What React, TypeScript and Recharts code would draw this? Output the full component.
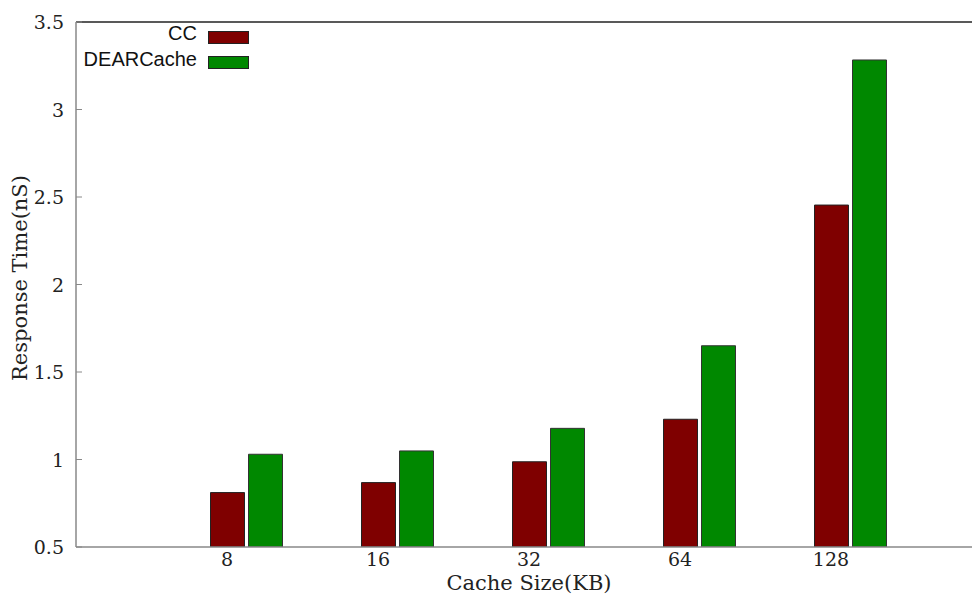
import { Bar, BarChart, Label, Legend, ReferenceLine, XAxis, YAxis } from "recharts";

const cacheSizes = ["8", "16", "32", "64", "128"];
const ccTimes = [0.811, 0.868, 0.987, 1.23, 2.454];
const dearCacheTimes = [1.03, 1.049, 1.178, 1.65, 3.283];
const yTicks = [0.5, 1, 1.5, 2, 2.5, 3, 3.5];
const xTicks = [1, 2, 3, 4, 5];

const data = cacheSizes.map((size, i) => ({
  pos: i + 1,
  size,
  cc: ccTimes[i],
  dearCache: dearCacheTimes[i],
}));

const PLOT_LEFT = 76;
const PLOT_TOP = 22;
const SERIF = '"DejaVu Serif", serif';
const SANS = '"Liberation Sans", Arial, sans-serif';
const AXIS_GRAY = "#888";

// gnuplot-style y ticks: mark drawn inward, label right-aligned to the left
function YTick(props: any) {
  const y = props.payload.coordinate;
  return (
    <g>
      <line x1={PLOT_LEFT} x2={PLOT_LEFT + 6} y1={y} y2={y} stroke={AXIS_GRAY} />
      <text x={64} y={y + 7} textAnchor="end" fontFamily={SERIF} fontSize={19} fill="#222">
        {props.payload.value}
      </text>
    </g>
  );
}

// mirrored ticks hanging from the top border
function TopTick(props: any) {
  const x = props.payload.coordinate;
  return <line x1={x} x2={x} y1={PLOT_TOP} y2={PLOT_TOP + 6} stroke="#555" />;
}

function renderLegend(props: any) {
  const items = (props.payload || []).filter((p: any) => p.type !== "none");
  return (
    <svg width={260} height={80}>
      {items.map((entry: any, i: number) => (
        <g key={entry.value}>
          <text
            x={197}
            y={40 + i * 25.5}
            textAnchor="end"
            fontFamily={SANS}
            fontSize={20}
            fill="#111"
          >
            {entry.value}
          </text>
          <rect
            x={208.5}
            y={31.5 + i * 25}
            width={40}
            height={12}
            fill={entry.color}
            stroke="#222"
          />
        </g>
      ))}
    </svg>
  );
}

export default function App() {
  return (
    <div
      style={{
        position: "absolute",
        left: 0,
        top: 0,
        width: 972,
        height: 602,
        overflow: "hidden",
        background: "#fff",
      }}
    >
      <BarChart
        width={1000}
        height={602}
        data={data}
        margin={{ top: PLOT_TOP, right: 18, left: 0, bottom: 0 }}
        barSize={34}
        barGap={4}
      >
        <XAxis
          dataKey="pos"
          type="number"
          domain={[0, 6]}
          ticks={xTicks}
          allowDataOverflow
          height={55}
          tickLine={false}
          tickSize={0}
          tickMargin={6}
          axisLine={{ stroke: AXIS_GRAY, strokeWidth: 1.5 }}
          tickFormatter={(v: number) => cacheSizes[v - 1]}
          tick={{ fontFamily: SERIF, fontSize: 19, fill: "#222" }}
        >
          <Label
            value="Cache Size(KB)"
            position="insideBottom"
            offset={12}
            style={{ fontFamily: SERIF, fontSize: 21, fill: "#222" }}
          />
        </XAxis>
        <XAxis
          xAxisId="top"
          orientation="top"
          dataKey="pos"
          type="number"
          domain={[0, 6]}
          ticks={xTicks}
          allowDataOverflow
          height={0}
          axisLine={false}
          tickLine={false}
          tick={<TopTick />}
        />
        <YAxis
          type="number"
          domain={[0.5, 3.5]}
          ticks={yTicks}
          allowDataOverflow
          width={PLOT_LEFT}
          tickLine={false}
          axisLine={{ stroke: AXIS_GRAY, strokeWidth: 1.5 }}
          tick={<YTick />}
        >
          <Label
            content={() => (
              <text
                x={27}
                y={278}
                transform="rotate(-90 27 278)"
                textAnchor="middle"
                fontFamily={SERIF}
                fontSize={21}
                fill="#222"
              >
                Response Time(nS)
              </text>
            )}
          />
        </YAxis>
        <ReferenceLine y={3.5} stroke="#222" strokeWidth={1.5} ifOverflow="visible" />
        <Legend
          content={renderLegend}
          layout="horizontal"
          verticalAlign="middle"
          align="center"
          wrapperStyle={{ top: 0, left: 0, width: 260, height: 80 }}
        />
        {/* empty slot so the CC bar sits centred on its tick */}
        <Bar dataKey="spacer" fill="none" legendType="none" isAnimationActive={false} />
        <Bar dataKey="cc" name="CC" fill="#7f0000" stroke="#222" isAnimationActive={false} />
        <Bar
          dataKey="dearCache"
          name="DEARCache"
          fill="#008800"
          stroke="#333"
          isAnimationActive={false}
        />
      </BarChart>
    </div>
  );
}
